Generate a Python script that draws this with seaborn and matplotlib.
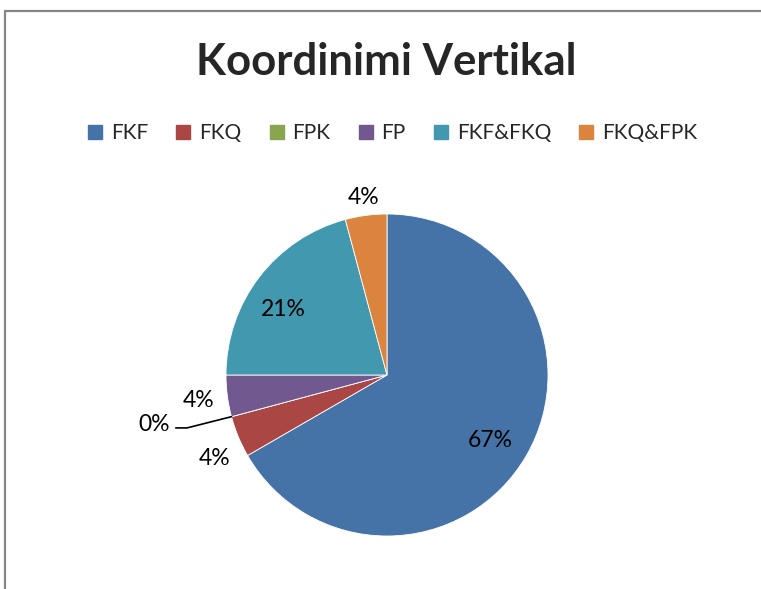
import numpy as np
import matplotlib
matplotlib.use("Agg")
import matplotlib.pyplot as plt
from matplotlib.lines import Line2D
import seaborn as sns

# Data
categories = ["FKF", "FKQ", "FPK", "FP", "FKF&FKQ", "FKQ&FPK"]
counts = [16, 1, 0, 1, 5, 1]
colors = ["#4572A7", "#AA4643", "#89A54E", "#71588F", "#4198AF", "#DB843D"]
title = "Koordinimi Vertikal"

sns.set_theme(style="white")
plt.rcParams["font.family"] = ["Lato", "DejaVu Sans"]
palette = sns.color_palette(colors)

W, H = 761, 589
fig = plt.figure(figsize=(W / 100, H / 100), dpi=100)
fig.patch.set_facecolor("white")

# chart border (top and left visible)
fig.add_artist(Line2D([5 / W, 1.0], [1 - 11 / H, 1 - 11 / H], color="#868686", lw=1.6))
fig.add_artist(Line2D([5 / W, 5 / W], [0, 1 - 11 / H], color="#868686", lw=1.6))

cx, cy, r = 387, 375, 161
ax = fig.add_axes([(cx - r) / W, (H - cy - r) / H, 2 * r / W, 2 * r / H])
wedges, _ = ax.pie(counts, colors=palette, startangle=90, counterclock=False,
                   radius=1.0, wedgeprops=dict(edgecolor="white", linewidth=0.6))
ax.set_xlim(-1, 1)
ax.set_ylim(-1, 1)
ax.set_aspect("auto")
ax.axis("off")

total = sum(counts)
# label radial distances (style)
label_r = [0.76, 1.19, 1.48, 1.18, 0.76, 1.11]
label_ang_shift = [-2.5, 3.3, -3.0, 0.1, 5.3, 0.0]
for i, (w, c) in enumerate(zip(wedges, counts)):
    mid = (w.theta1 + w.theta2) / 2 + label_ang_shift[i]
    pct = f"{round(100 * c / total):.0f}%"
    x = label_r[i] * np.cos(np.radians(mid))
    y = label_r[i] * np.sin(np.radians(mid))
    ax.text(x, y, pct, ha="center", va="center", fontsize=16.5, color="black", clip_on=False)
    if c == 0:
        a = np.radians(w.theta1)
        ex, ey = np.cos(a), np.sin(a)
        elbow_x = ex * 1.286
        elbow_y = ey * 1.27
        ax.plot([ex, elbow_x, elbow_x - 0.07], [ey, elbow_y, elbow_y],
                color="black", lw=1.2, clip_on=False)

fig.text(386 / W, 1 - 62 / H, title, ha="center", va="center",
         fontsize=31.5, fontweight="bold")

handles = [Line2D([0], [0], marker="s", linestyle="", markersize=10,
                  markerfacecolor=col, markeredgecolor=col) for col in palette]
fig.legend(handles, categories, loc="center", bbox_to_anchor=(392 / W, 1 - 133 / H),
           ncol=6, frameon=False, fontsize=15, handletextpad=0.35,
           columnspacing=1.3, handlelength=0.8)

fig.savefig("out.png", dpi=100, facecolor="white")
